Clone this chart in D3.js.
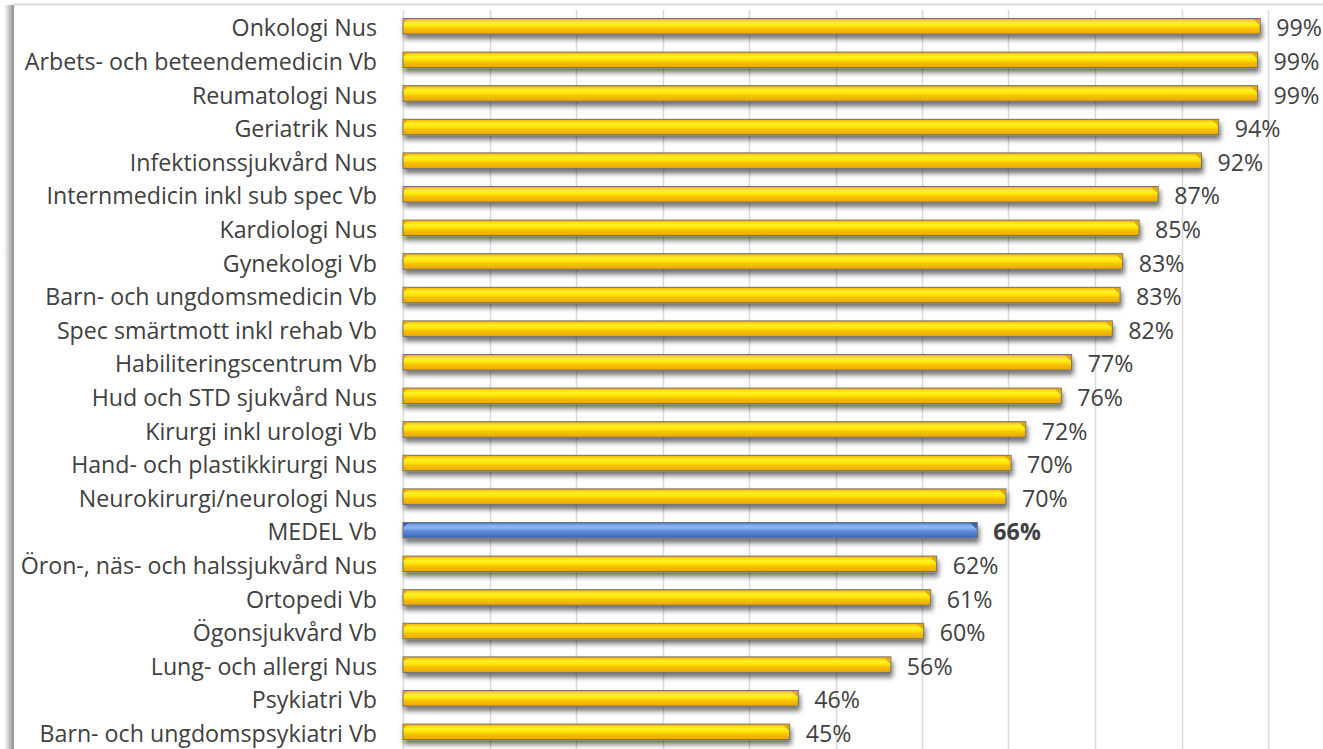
<!DOCTYPE html>
<html>
<head>
<meta charset="utf-8">
<script src="https://cdn.jsdelivr.net/npm/d3@7"></script>
<style>
  body { margin: 0; background: #fff; }
  text { font-family: "Open Sans", sans-serif; }
</style>
</head>
<body>
<div id="chart"></div>
<script>
// categories, top to bottom
const categories = [
  'Onkologi Nus', 'Arbets- och beteendemedicin Vb', 'Reumatologi Nus', 'Geriatrik Nus',
  'Infektionssjukvård Nus', 'Internmedicin inkl sub spec Vb', 'Kardiologi Nus', 'Gynekologi Vb',
  'Barn- och ungdomsmedicin Vb', 'Spec smärtmott inkl rehab Vb', 'Habiliteringscentrum Vb',
  'Hud och STD sjukvård Nus', 'Kirurgi inkl urologi Vb', 'Hand- och plastikkirurgi Nus',
  'Neurokirurgi/neurologi Nus', 'MEDEL Vb', 'Öron-, näs- och halssjukvård Nus', 'Ortopedi Vb',
  'Ögonsjukvård Vb', 'Lung- och allergi Nus', 'Psykiatri Vb', 'Barn- och ungdomspsykiatri Vb'
];
const values = [
  0.991, 0.988, 0.988, 0.943, 0.923, 0.873, 0.851, 0.832, 0.829, 0.820, 0.773,
  0.761, 0.720, 0.703, 0.697, 0.664, 0.617, 0.610, 0.602, 0.564, 0.457, 0.447
];
const highlight = 'MEDEL Vb';
const xTicks = [0, 0.1, 0.2, 0.3, 0.4, 0.5, 0.6, 0.7, 0.8, 0.9, 1.0];

const data = categories.map((c, i) => ({ name: c, value: values[i] }));

const config = {
  width: 1323, height: 749,
  plotLeft: 403, plotRight: 1268,
  rowTop: 11.2, rowStep: 33.6,
  barH: 15.5, fontSize: 23.2
};

const svg = d3.select('#chart').append('svg')
  .attr('width', config.width)
  .attr('height', config.height);

const defs = svg.append('defs');

// frame shadow on the left
const sg = defs.append('linearGradient').attr('id', 'frameShadow');
sg.append('stop').attr('offset', '0%').attr('stop-color', '#fff');
sg.append('stop').attr('offset', '100%').attr('stop-color', '#8f8f8f');

const yg = defs.append('linearGradient').attr('id', 'yellow')
  .attr('x1', 0).attr('y1', 0).attr('x2', 0).attr('y2', 1);
[['0%', '#e9a600'], ['12%', '#ffcf14'], ['28%', '#fff22a'], ['50%', '#ffe400'],
 ['64%', '#f8c208'], ['100%', '#eca800']].forEach(([o, c]) =>
  yg.append('stop').attr('offset', o).attr('stop-color', c));

const bg = defs.append('linearGradient').attr('id', 'blue')
  .attr('x1', 0).attr('y1', 0).attr('x2', 0).attr('y2', 1);
[['0%', '#3d6cc0'], ['16%', '#7fa9ea'], ['34%', '#8fb6f0'], ['56%', '#5b8bd8'],
 ['100%', '#3d66b5']].forEach(([o, c]) =>
  bg.append('stop').attr('offset', o).attr('stop-color', c));

const f = defs.append('filter').attr('id', 'barShadow')
  .attr('x', '-5%').attr('y', '-50%').attr('width', '110%').attr('height', '250%');
f.append('feDropShadow').attr('dx', 1.5).attr('dy', 4.5).attr('stdDeviation', 2.4)
  .attr('flood-color', '#000').attr('flood-opacity', 0.55);

// chart frame
svg.append('rect').attr('x', 4).attr('y', 5).attr('width', 10).attr('height', config.height)
  .attr('fill', 'url(#frameShadow)');
svg.append('line').attr('x1', 13).attr('x2', config.width).attr('y1', 4.5).attr('y2', 4.5)
  .attr('stroke', '#d9d9d9').attr('stroke-width', 2);
svg.append('rect').attr('x', 14).attr('y', 6).attr('width', config.width).attr('height', config.height)
  .attr('fill', '#fff');

const x = d3.scaleLinear().domain([0, 1]).range([config.plotLeft, config.plotRight]);
const y = d3.scaleBand().domain(categories)
  .range([config.rowTop, config.rowTop + config.rowStep * categories.length]);

// vertical gridlines
svg.append('g').selectAll('line')
  .data(xTicks)
  .join('line')
  .attr('x1', d => Math.round(x(d)) + 0.5)
  .attr('x2', d => Math.round(x(d)) + 0.5)
  .attr('y1', 10).attr('y2', config.height)
  .attr('stroke', '#d9d9d9')
  .attr('stroke-width', 1.5);

// category labels
svg.append('g').selectAll('text')
  .data(data)
  .join('text')
  .attr('x', 377)
  .attr('y', d => y(d.name) + y.bandwidth() / 2)
  .attr('dy', '0.36em')
  .attr('text-anchor', 'end')
  .attr('fill', '#404040')
  .style('font-size', config.fontSize + 'px')
  .text(d => d.name);

// bars
const bars = svg.append('g').selectAll('g')
  .data(data)
  .join('g')
  .attr('transform', d => `translate(0,${y(d.name) + y.bandwidth() / 2 - 9.5})`);

bars.append('rect')
  .attr('x', x(0))
  .attr('y', 0)
  .attr('width', d => x(d.value) - x(0))
  .attr('height', config.barH)
  .attr('fill', d => d.name === highlight ? 'url(#blue)' : 'url(#yellow)')
  .attr('stroke', '#707070')
  .attr('stroke-width', 1)
  .attr('filter', 'url(#barShadow)');

// bevel at the bar ends
bars.append('path')
  .attr('d', d => {
    const x1 = x(d.value);
    return `M${x1 - 7},0.5 L${x1 - 0.5},0.5 L${x1 - 0.5},7 Z`;
  })
  .attr('fill', d => d.name === highlight ? '#2f56a0' : '#e0a000')
  .attr('opacity', 0.85);
bars.append('path')
  .attr('d', `M${x(0) + 0.5},0.5 L${x(0) + 5},0.5 L${x(0) + 0.5},5 Z`)
  .attr('fill', d => d.name === highlight ? '#2f56a0' : '#e0a000')
  .attr('opacity', 0.85);

// value labels
svg.append('g').selectAll('text')
  .data(data)
  .join('text')
  .attr('x', d => x(d.value) + 16)
  .attr('y', d => y(d.name) + y.bandwidth() / 2)
  .attr('dy', '0.36em')
  .attr('fill', '#404040')
  .style('font-size', config.fontSize + 'px')
  .style('font-weight', d => d.name === highlight ? 'bold' : 'normal')
  .text(d => d3.format('.0%')(d.value));
</script>
</body>
</html>
